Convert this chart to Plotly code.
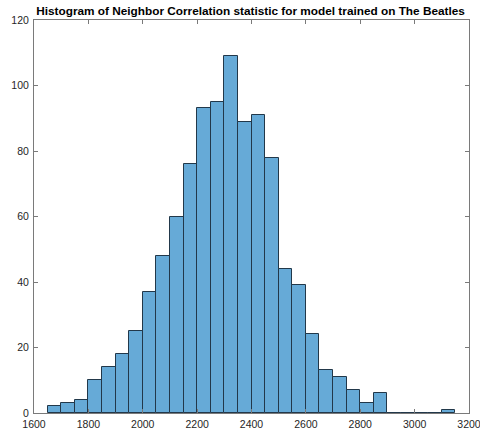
import plotly.graph_objects as go

bin_edges = [1650, 1700, 1750, 1800, 1850, 1900, 1950, 2000, 2050, 2100,
             2150, 2200, 2250, 2300, 2350, 2400, 2450, 2500, 2550, 2600,
             2650, 2700, 2750, 2800, 2850, 2900, 2950, 3000, 3050, 3100, 3150]
counts = [2, 3, 4, 10, 14, 18, 25, 37, 48, 60,
          76, 93, 95, 109, 89, 91, 78, 44, 39, 24,
          13, 11, 7, 3, 6, 0, 0, 0, 0, 1]
x_ticks = [1600, 1800, 2000, 2200, 2400, 2600, 2800, 3000, 3200]
y_ticks = [0, 20, 40, 60, 80, 100, 120]
title_text = "Histogram of Neighbor Correlation statistic for model trained on The Beatles"

centers = [(a + b) / 2 for a, b in zip(bin_edges[:-1], bin_edges[1:])]
widths = [b - a for a, b in zip(bin_edges[:-1], bin_edges[1:])]

fig = go.Figure(go.Bar(
    x=centers, y=counts, width=widths,
    marker=dict(color="#66AAD7", line=dict(color="#22384a", width=1)),
))

axis_common = dict(
    showline=True, linecolor="#7a7a7a", linewidth=1, mirror="ticks",
    ticks="inside", ticklen=4, tickcolor="#7a7a7a",
    showgrid=False, zeroline=False, automargin=False,
    ticklabeloverflow="allow",
    tickfont=dict(family="Liberation Sans, Arial", size=10.5, color="#262626"),
)

fig.update_layout(
    width=480, height=434,
    margin=dict(l=34, r=11, t=20, b=21, autoexpand=False),
    paper_bgcolor="white", plot_bgcolor="white",
    bargap=0, showlegend=False,
    title=dict(text="<b>" + title_text + "</b>", x=0.522, xanchor="center",
               y=0.975, yanchor="middle", automargin=False,
               font=dict(family="Liberation Sans, Arial", size=11.8, color="black")),
    xaxis=dict(range=[1600, 3200], tickvals=x_ticks, ticklabelstandoff=1, **axis_common),
    yaxis=dict(range=[0, 120], tickvals=y_ticks, ticklabelstandoff=2, **axis_common),
)

fig.write_html("out.html", config={"displayModeBar": False},
               post_script="document.body.style.margin='0';document.body.style.overflow='hidden';")
